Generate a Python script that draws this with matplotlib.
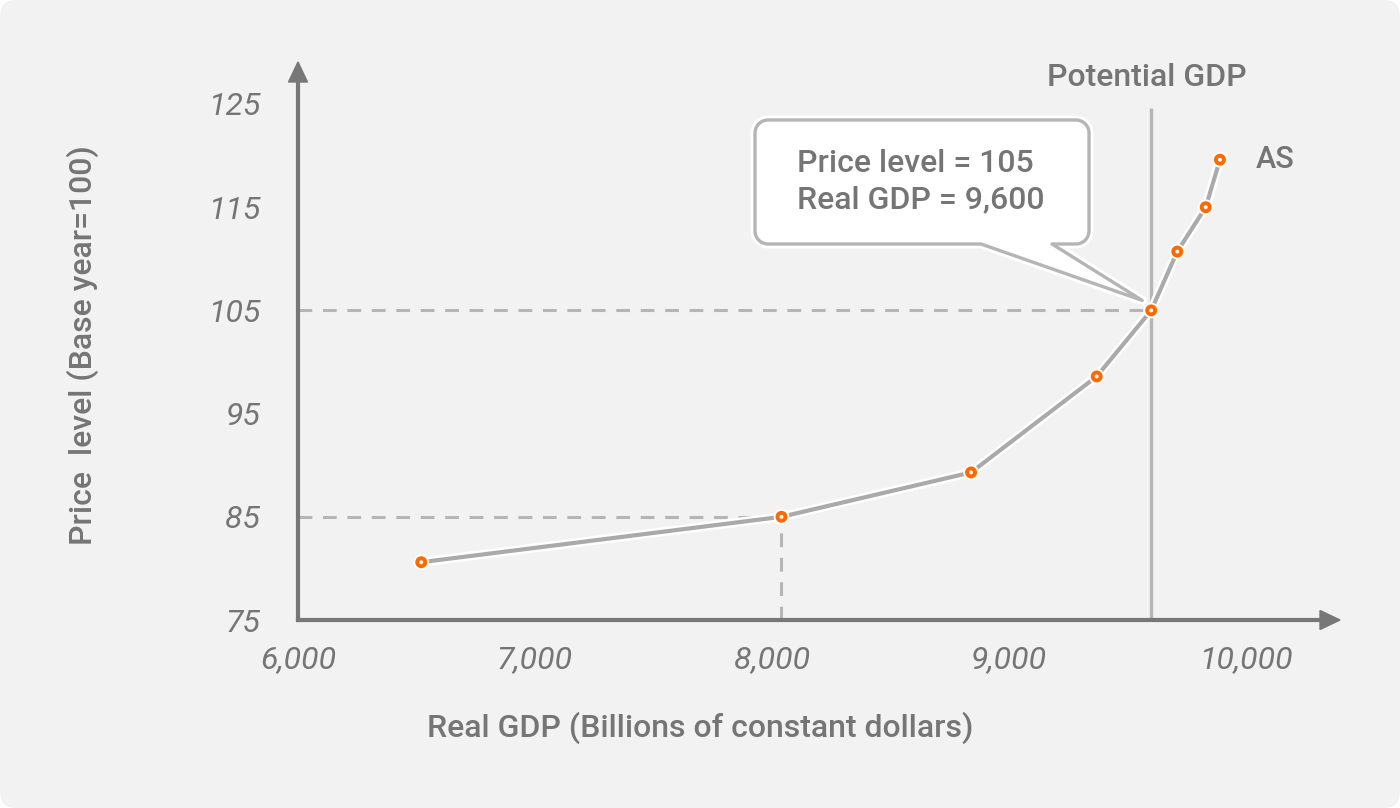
import numpy as np
import matplotlib
matplotlib.use('Agg')
import matplotlib.pyplot as plt
from matplotlib.patches import FancyBboxPatch, Polygon
from matplotlib.transforms import IdentityTransform
import matplotlib.patheffects as pe

# ---------------- data ----------------
real_gdp = [6520, 8040, 8840, 9370, 9600, 9710, 9830, 9890]
price_level = [80.6, 85.0, 89.3, 98.6, 105.0, 110.7, 115.0, 119.6]
x_ticks = [6000, 7000, 8000, 9000, 10000]
x_tick_labels = ['6,000', '7,000', '8,000', '9,000', '10,000']
y_ticks = [75, 85, 95, 105, 115, 125]
y_tick_labels = ['75', '85', '95', '105', '115', '125']
potential_gdp = 9600
equilibrium_idx = 4
reference_idx = 1
callout_lines = ['Price level = 105', 'Real GDP = 9,600']
curve_label = 'AS'
potential_label = 'Potential GDP'
x_title = 'Real GDP (Billions of constant dollars)'
y_title = 'Price  level (Base year=100)'

# ---------------- style ----------------
plt.rcParams['font.family'] = ['Roboto', 'DejaVu Sans']
TXT = '#757575'
AXC = '#777777'
LINEC = '#aaaaaa'
DASHC = '#b5b5b5'
ORANGE = '#ff6a00'
W, H = 1400, 808
MED = 'medium'

fig = plt.figure(figsize=(W / 100, H / 100), dpi=100, facecolor='white')
bg = FancyBboxPatch((0, 0), W, H, boxstyle='round,pad=0,rounding_size=16',
                    transform=IdentityTransform(), facecolor='#f2f2f2',
                    edgecolor='none', zorder=-10)
fig.add_artist(bg)

ax_l, ax_r, ax_t, ax_b = 298, 1340, 62, 620
ax = fig.add_axes([ax_l / W, (H - ax_b) / H, (ax_r - ax_l) / W, (ax_b - ax_t) / H])
ax.set_facecolor('none')
pxx = 0.237   # px per GDP unit
pxy = 10.32   # px per price unit
ax.set_xlim(6000, 6000 + (ax_r - ax_l) / pxx)
ax.set_ylim(75, 75 + (ax_b - ax_t) / pxy)
for s in ax.spines.values():
    s.set_visible(False)

ax.set_xticks(x_ticks)
ax.set_xticklabels(x_tick_labels, fontsize=23, style='italic', color=TXT)
ax.set_yticks(y_ticks)
ax.set_yticklabels(y_tick_labels, fontsize=23, style='italic', color=TXT)
ax.tick_params(axis='x', length=0, pad=18)
ax.tick_params(axis='y', length=0, pad=27)

# axis titles placed in pixel positions
fig.text(700, H - 728, x_title, transform=IdentityTransform(), fontsize=23,
         fontweight=MED, color=TXT, ha='center', va='center')
fig.text(83, H - 345, y_title, transform=IdentityTransform(), fontsize=23,
         fontweight=MED, color=TXT, ha='center', va='center', rotation=90)

# axes with arrows
aw = ax_r - ax_l
ah = ax_b - ax_t
head = 20
hw = 9.5
ax.plot([0, 1 - head / aw], [0, 0], transform=ax.transAxes, color=AXC, lw=3,
        clip_on=False, solid_capstyle='projecting', zorder=5)
ax.plot([0, 0], [0, 1 - head / ah], transform=ax.transAxes, color=AXC, lw=3,
        clip_on=False, solid_capstyle='projecting', zorder=5)
ax.add_patch(Polygon([[1, 0], [1 - head / aw, hw / ah], [1 - head / aw, -hw / ah]],
                     closed=True, transform=ax.transAxes, color=AXC, clip_on=False, zorder=5))
ax.add_patch(Polygon([[0, 1], [hw / aw, 1 - head / ah], [-hw / aw, 1 - head / ah]],
                     closed=True, transform=ax.transAxes, color=AXC, clip_on=False, zorder=5))

# potential GDP line
pot_top = 124.6
ax.plot([potential_gdp, potential_gdp], [75, pot_top], color=DASHC, lw=2.4, zorder=2,
        solid_capstyle='butt')
ax.annotate(potential_label, xy=(potential_gdp, pot_top), xytext=(-3, 22),
            textcoords='offset points', ha='center', va='center', fontsize=23,
            fontweight=MED, color=TXT, annotation_clip=False)

# dashed guides
ex, ey = real_gdp[equilibrium_idx], price_level[equilibrium_idx]
rx, ry = real_gdp[reference_idx], price_level[reference_idx]
dash_kw = dict(color=DASHC, lw=2.2, dashes=(4.5, 3.5), zorder=2)
ax.plot([6000, ex], [ey, ey], **dash_kw)
ax.plot([6000, rx], [ry, ry], **dash_kw)
ax.plot([rx, rx], [75, ry], **dash_kw)

# AS curve
ax.plot(real_gdp, price_level, color=LINEC, lw=3.0, zorder=3,
        solid_capstyle='round',
        path_effects=[pe.Stroke(linewidth=6.5, foreground='white'), pe.Normal()])
ax.plot(real_gdp, price_level, 'o', ms=5.75, mfc='white', mec=ORANGE, mew=2.85,
        zorder=4, path_effects=[pe.Stroke(linewidth=5.5, foreground='white'), pe.Normal()])
ax.annotate(curve_label, xy=(real_gdp[-1], price_level[-1]), xytext=(26, 0),
            textcoords='offset points', ha='left', va='center', fontsize=22,
            fontweight=MED, color=TXT, annotation_clip=False)

# callout box with tail (pixel geometry anchored to the equilibrium point)
px, py = ax.transData.transform((ex, ey))
tip = (px - 9, py + 10)
bx0, bx1 = 755, 1089
by_top, by_bot = H - 120, H - 244
r = 13
t0, t1 = 981, 1052


def arc(cx, cy, a0, a1, n=12):
    a = np.linspace(np.radians(a0), np.radians(a1), n)
    return list(zip(cx + r * np.cos(a), cy + r * np.sin(a)))


pts = []
pts += [(t1, by_bot), tip, (t0, by_bot)]
pts += arc(bx0 + r, by_bot + r, 270, 180)
pts += arc(bx0 + r, by_top - r, 180, 90)
pts += arc(bx1 - r, by_top - r, 90, 0)
pts += arc(bx1 - r, by_bot + r, 0, -90)
callout = Polygon(pts, closed=True, facecolor='white', edgecolor=DASHC, lw=2.4,
                  transform=IdentityTransform(), zorder=6, joinstyle='round',
                  path_effects=[pe.Stroke(linewidth=6.5, foreground='white'), pe.Normal()])
fig.add_artist(callout)
fig.text(797, H - 163, callout_lines[0], transform=IdentityTransform(), fontsize=23,
         fontweight=MED, color=TXT, ha='left', va='center', zorder=7)
fig.text(797, H - 200, callout_lines[1], transform=IdentityTransform(), fontsize=23,
         fontweight=MED, color=TXT, ha='left', va='center', zorder=7)

fig.savefig('out.png', dpi=100, facecolor='white')
